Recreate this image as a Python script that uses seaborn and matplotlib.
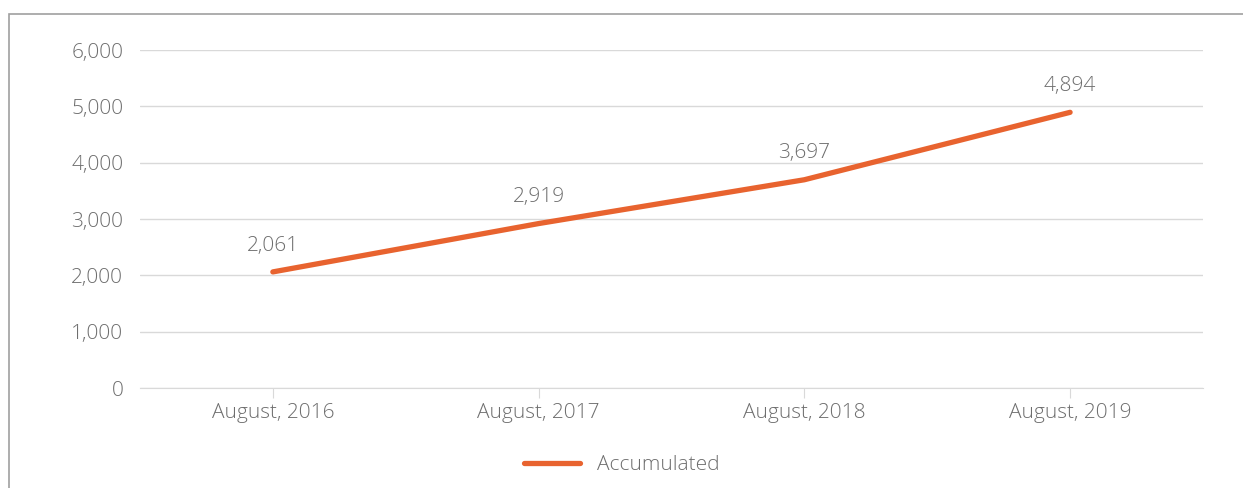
import matplotlib.pyplot as plt
import matplotlib.patches as patches
import pandas as pd
import seaborn as sns

# ____DATA____
periods = ["August, 2016", "August, 2017", "August, 2018", "August, 2019"]
accumulated = [2061, 2919, 3697, 4894]
y_ticks = [0, 1000, 2000, 3000, 4000, 5000, 6000]

df = pd.DataFrame({"Period": periods, "Accumulated": accumulated})

sns.set_style("white")
plt.rcParams["font.family"] = ["Open Sans", "DejaVu Sans"]
plt.rcParams["font.weight"] = "light"

text_color = "#6e6e6e"
line_color = "#E8632F"
grid_color = "#d9d9d9"
fsize = 15

fig = plt.figure(figsize=(12.43, 4.88), dpi=100)
ax = fig.add_axes([0.1126, 0.2049, 0.8552, 0.6926])

sns.lineplot(data=df, x="Period", y="Accumulated", sort=False, color=line_color,
             linewidth=3.8, solid_capstyle="round", label="Accumulated", ax=ax)

# value labels above each point
for i, v in enumerate(accumulated):
    ax.annotate(f"{v:,}", (i, v), textcoords="offset points", xytext=(0, 19),
                ha="center", va="center", fontsize=fsize, color=text_color)

ax.set_xlim(-0.5, len(periods) - 0.5)
ax.set_ylim(0, 6000)
ax.set_yticks(y_ticks)
ax.set_yticklabels([f"{t:,}" for t in y_ticks])
ax.set_xlabel("")
ax.set_ylabel("")
ax.grid(axis="y", color=grid_color, linewidth=1)
ax.set_axisbelow(True)
for s in ["top", "right", "left"]:
    ax.spines[s].set_visible(False)
ax.spines["bottom"].set_color(grid_color)
ax.tick_params(axis="y", length=0, pad=12, labelsize=fsize, labelcolor=text_color)
ax.tick_params(axis="x", length=7, color=grid_color, pad=4, labelsize=fsize,
               labelcolor=text_color, bottom=True)

leg = ax.legend(loc="center", bbox_to_anchor=(0.453, -0.228), frameon=False,
                fontsize=fsize, handlelength=2.7, handletextpad=0.8)
for t in leg.get_texts():
    t.set_color(text_color)

# outer frame (only top and left edges visible in the crop)
fig.add_artist(patches.Rectangle((9 / 1243, -0.1), 1.2, 1.1 - 14 / 488,
                                 transform=fig.transFigure, fill=False,
                                 edgecolor="#a0a0a0", linewidth=1.2))

fig.savefig("out.png", dpi=100)
